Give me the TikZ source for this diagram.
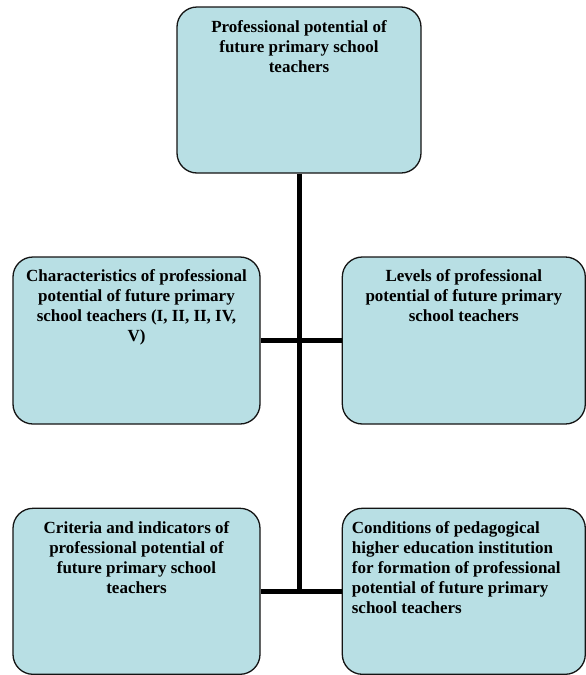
\documentclass[tikz,border=0pt]{standalone}
\usepackage{fontspec}
\setmainfont{Liberation Serif}
\usetikzlibrary{positioning}
\definecolor{boxfill}{RGB}{184,223,228}
\definecolor{boxline}{RGB}{20,20,20}

\begin{document}
\begin{tikzpicture}[
    x=1pt, y=-1pt,
    box/.style={rectangle, rounded corners=20pt, draw=boxline, line width=1.3pt,
                fill=boxfill, minimum width=247pt, minimum height=167pt},
    txt/.style={inner sep=0pt, align=center,
                font=\fontsize{17}{20}\selectfont\bfseries},
    link/.style={line width=5pt, black}
]
\useasboundingbox (0,0) rectangle (586,675);

% boxes
\node[box, minimum width=244pt, minimum height=166pt] (top) at (299,90) {};
\node[box] (chars) at (136.5,340.5) {};
\node[box, right=81pt of chars, minimum width=243pt] (levels) {};
\node[box, below=83pt of chars, minimum height=166pt] (criteria) {};
\node[box, right=81pt of criteria, minimum width=243pt, minimum height=166pt] (conds) {};

% connectors
\draw[link] (top.south) -- (top.south |- criteria.east);
\draw[link] (chars.east) -- (levels.west);
\draw[link] (criteria.east) -- (conds.west);

% texts
\node[txt, below=14pt of top.north] (toptxt)
  {Professional potential of\\future primary school\\teachers};
\node[txt, below=13pt of chars.north] (charstxt)
  {Characteristics of professional\\potential of future primary\\school teachers (I, II, II, IV,\\V)};
\node[txt, below=13pt of levels.north] (levelstxt)
  {Levels of professional\\potential of future primary\\school teachers};
\node[txt, below=14pt of criteria.north] (criteriatxt)
  {Criteria and indicators of\\professional potential of\\future primary school\\teachers};
\node[txt, align=left, anchor=north west] (condstxt) at ([xshift=10pt, yshift=-14pt]conds.north west)
  {Conditions of pedagogical\\higher education institution\\for formation of professional\\potential of future primary\\school teachers};

\end{tikzpicture}
\end{document}
